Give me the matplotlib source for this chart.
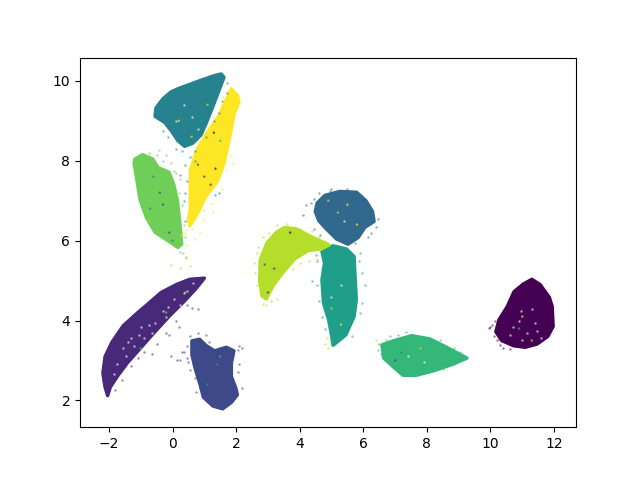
import matplotlib
matplotlib.use('Agg')
import matplotlib.pyplot as plt

# Cluster outlines, one (x, y) list per class. The dense
# blobs are too many points to read one by one, so each is drawn as its region.
class_0 = [(11.30, 5.03), (11.56, 4.90), (11.85, 4.58), (11.94, 4.35), (11.97, 3.85), (11.80, 3.60), (11.46, 3.41),
           (11.09, 3.33), (10.72, 3.37), (10.35, 3.50), (10.17, 3.72), (10.27, 4.02), (10.53, 4.35), (10.74, 4.72), (11.03, 4.91)]
class_1 = [(1.00, 5.06), (0.54, 5.03), (0.12, 4.90), (-0.36, 4.70), (-0.78, 4.41), (-1.09, 4.20), (-1.55, 3.87),
           (-1.91, 3.45), (-2.12, 3.10), (-2.19, 2.68), (-2.12, 2.33), (-2.04, 2.12), (-1.96, 2.33), (-1.72, 2.62),
           (-1.41, 2.95), (-1.04, 3.28), (-0.62, 3.66), (-0.09, 4.12), (0.38, 4.49), (0.75, 4.81)]
class_2 = [(0.61, 3.49), (0.85, 3.53), (1.06, 3.37), (1.32, 3.24), (1.69, 3.33), (1.93, 3.24), (1.85, 2.93), (1.85, 2.60),
           (1.99, 2.31), (2.04, 2.14), (1.85, 1.95), (1.58, 1.79), (1.27, 1.86), (0.97, 2.08), (0.87, 2.39), (0.71, 2.81), (0.61, 3.14)]
class_3 = [(4.55, 6.94), (4.79, 7.13), (5.26, 7.23), (5.79, 7.21), (6.08, 7.00), (6.29, 6.73), (6.34, 6.48), (6.05, 6.33),
           (5.84, 6.08), (5.52, 5.91), (5.16, 6.04), (4.84, 6.29), (4.60, 6.50), (4.49, 6.73)]
class_4 = [(1.53, 10.17), (1.62, 10.09), (1.53, 9.90), (1.43, 9.69), (1.27, 9.36), (1.06, 8.94), (0.90, 8.65), (0.64, 8.44),
           (0.38, 8.36), (0.17, 8.50), (-0.04, 8.75), (-0.25, 8.96), (-0.55, 9.11), (-0.52, 9.32), (-0.30, 9.55), (-0.05, 9.72),
           (0.17, 9.80), (0.85, 10.00), (1.32, 10.13)]
class_5 = [(4.70, 5.73), (5.05, 5.87), (5.47, 5.79), (5.71, 5.60), (5.74, 5.10), (5.78, 4.52), (5.71, 4.10), (5.45, 3.64),
           (5.05, 3.38), (5.00, 3.64), (4.91, 4.02), (4.75, 4.43), (4.70, 5.02), (4.78, 5.44)]
class_6 = [(6.59, 3.39), (6.94, 3.49), (7.52, 3.62), (8.09, 3.54), (8.62, 3.33), (9.26, 3.06), (8.83, 2.91), (8.20, 2.74),
           (7.67, 2.63), (7.25, 2.63), (6.96, 2.83), (6.64, 3.06)]
class_7 = [(-1.18, 8.04), (-0.94, 8.15), (-0.62, 8.04), (-0.46, 7.83), (-0.11, 7.71), (0.04, 7.40), (0.15, 7.02), (0.22, 6.52),
           (0.29, 5.91), (0.17, 5.83), (-0.15, 6.00), (-0.55, 6.21), (-0.81, 6.56), (-1.02, 7.02), (-1.12, 7.52), (-1.21, 7.94)]
class_8 = [(3.53, 6.33), (3.90, 6.29), (4.31, 6.12), (4.92, 5.89), (4.68, 5.79), (4.26, 5.75), (3.84, 5.54), (3.47, 5.20),
           (3.16, 4.87), (2.95, 4.54), (2.81, 4.62), (2.74, 5.02), (2.76, 5.52), (2.97, 5.94), (3.27, 6.21)]
class_9 = [(1.85, 9.80), (2.04, 9.63), (2.09, 9.48), (1.93, 9.15), (1.78, 8.52), (1.62, 7.94), (1.41, 7.48), (1.04, 7.10),
           (0.75, 6.62), (0.54, 6.37), (0.50, 6.52), (0.56, 6.77), (0.56, 7.19), (0.56, 7.77), (0.77, 8.27), (1.08, 8.69),
           (1.45, 9.11), (1.69, 9.52)]

outlines = [class_0, class_1, class_2, class_3, class_4, class_5, class_6, class_7, class_8, class_9]

# Loose points around the blobs, read by eye
stray_0 = [(10.0, 3.85), (9.95, 3.82), (10.05, 3.9), (10.1, 3.6), (10.2, 3.5), (10.3, 3.38), (10.15, 4.0), (10.4, 3.3), (10.6, 3.28)]
stray_1 = [(0.45, 4.4), (0.6, 4.32), (0.8, 4.3), (0.1, 3.98), (0.2, 3.85), (-0.2, 3.7), (-0.1, 3.65), (-0.5, 3.4), (-0.65, 3.15),
           (-0.9, 3.2), (-1.1, 3.05), (-1.3, 2.85), (-1.6, 2.5), (-1.8, 2.25), (-0.05, 3.1), (0.15, 3.0), (0.3, 3.2), (0.45, 3.05)]
stray_2 = [(0.55, 3.6), (0.8, 3.7), (1.05, 3.65), (0.35, 3.2), (0.25, 3.0), (0.5, 2.95), (0.55, 2.75), (0.7, 2.55), (0.45, 3.35),
           (2.05, 3.25), (2.1, 3.35), (2.2, 3.3), (2.1, 2.9), (2.05, 2.7), (2.2, 2.3), (0.6, 3.3), (0.75, 2.2), (1.15, 3.45)]
stray_3 = [(4.2, 6.9), (4.35, 6.95), (4.1, 6.65), (4.45, 7.05), (4.6, 7.2), (5.0, 7.3), (6.45, 6.55), (6.4, 6.35), (6.25, 6.2),
           (6.15, 6.1), (5.75, 5.95), (4.65, 6.15), (4.45, 6.3), (4.95, 7.25), (5.5, 7.3)]
stray_4 = [(1.7, 9.95), (1.72, 9.7), (1.55, 9.5), (1.45, 9.2), (1.3, 9.0), (1.05, 8.6), (0.7, 8.25), (0.55, 8.1), (0.7, 8.0),
           (0.4, 7.9), (0.25, 7.65), (0.45, 7.5), (0.4, 7.2), (1.45, 7.2), (1.35, 7.15), (-0.3, 8.75), (-0.15, 8.6), (0.1, 8.3),
           (0.3, 8.25), (0.35, 7.0), (0.4, 6.5)]
stray_5 = [(4.5, 5.65), (4.55, 5.5), (5.85, 5.5), (5.95, 5.2), (6.05, 4.9), (5.95, 4.45), (5.9, 4.2), (4.55, 4.9), (4.6, 4.5),
           (4.7, 4.1), (4.8, 3.8), (5.65, 3.6), (4.4, 5.0), (5.9, 5.7)]
stray_6 = [(6.45, 3.25), (6.5, 3.42), (6.7, 3.52), (6.85, 3.6), (7.1, 3.65), (7.35, 3.72), (8.4, 3.5), (8.85, 3.3), (9.05, 3.2),
           (9.0, 2.98), (8.5, 2.78), (6.55, 3.15)]
stray_7 = [(-0.41, 8.26), (-0.2, 8.15), (-0.75, 8.2), (-0.5, 8.15), (-0.04, 7.95), (0.12, 7.7), (0.32, 5.7), (0.42, 5.6), (0.05, 7.75),
           (0.2, 7.2), (0.3, 6.9), (0.35, 6.4), (0.38, 6.1), (-0.3, 7.98), (0.25, 7.55), (0.25, 5.72)]
stray_8 = [(-0.04, 5.39), (0.22, 5.31), (0.54, 5.37), (0.43, 5.57), (2.55, 5.45), (2.6, 5.2), (2.65, 5.7), (2.7, 5.85), (2.85, 6.1),
           (3.05, 6.2), (3.3, 6.4), (3.6, 6.42), (4.05, 6.3), (4.4, 6.25), (4.6, 6.1), (4.8, 6.0), (3.3, 4.55), (3.1, 4.5), (2.85, 4.42),
           (2.95, 4.4), (3.8, 5.3), (4.0, 5.45), (4.3, 5.5), (4.55, 5.55), (4.85, 3.55), (4.8, 3.4), (4.9, 3.3), (4.95, 3.48), (6.45, 3.42),
           (6.4, 3.5), (2.65, 4.9)]
stray_9 = [(1.85, 8.15), (1.69, 7.77), (1.27, 6.72), (1.0, 6.77), (0.95, 6.52), (0.43, 6.27), (0.27, 6.15), (0.4, 6.2), (0.62, 6.3),
           (1.53, 9.4), (1.58, 9.6), (1.27, 9.1), (1.16, 8.82), (1.9, 7.95), (1.55, 7.3), (1.2, 6.95), (0.45, 5.9), (0.85, 6.2), (0.7, 6.05)]

strays = [stray_0, stray_1, stray_2, stray_3, stray_4, stray_5, stray_6, stray_7, stray_8, stray_9]

# Pale flecks inside the blobs
flecks_x = [-1.55, -1.45, -1.3, -1.2, -1.05, -0.9, -0.75, -0.55, -0.3, -0.15, 0.05, 0.25, 0.45, 0.65, -1.75, -1.85, -1.4, -1.0, -0.65,
            -0.2, 0.1, 0.35, 10.9, 11.15, 11.4, 11.0, 10.7, 11.3, 11.6, 10.95, 11.45, 10.6, 0.35, 0.6, 0.8, 0.1, 5.3, 5.0, 5.4, 7.4, 7.9]
flecks_y = [3.3, 3.1, 3.55, 3.35, 3.65, 3.55, 3.9, 3.95, 4.25, 4.35, 4.55, 4.4, 4.75, 4.95, 2.9, 2.65, 3.45, 3.85, 3.7,
            4.1, 4.2, 4.7, 4.0, 3.7, 3.95, 3.5, 3.85, 4.3, 3.55, 4.25, 3.75, 3.65, 9.4, 9.1, 8.8, 9.0, 4.9, 4.6, 6.5, 3.1, 2.95]
# Odd-coloured points lying on top of other blobs: x, y, class
mixed_x = [-0.7, -0.4, 0.2, 0.6, 1.1, 0.9, 1.35, 1.2, 1.5, 0.8, -0.6, -0.3, -0.1, 0.0, -0.75, 5.2, 5.5, 4.9, 5.8, 5.0, 5.3, 3.2, 3.7, 2.9,
           3.0, 11.0, 11.3, 10.9, 7.2, 7.8, 7.0, -1.0, -0.2, 0.4, 1.4, 1.5, 1.1, 1.0, 1.3]
mixed_y = [6.8, 7.2, 9.0, 8.6, 9.4, 9.0, 7.8, 7.4, 8.5, 7.9, 7.6, 6.9, 6.2, 6.0, 6.5, 6.7, 6.9, 7.0, 6.4, 4.3, 3.9, 5.3, 6.2, 5.4,
           4.7, 4.1, 3.5, 3.8, 3.2, 3.3, 3.0, 3.3, 4.2, 4.7, 2.9, 3.1, 2.4, 7.6, 8.7]
mixed_c = [4, 2, 9, 8, 8, 5, 0, 1, 6, 2, 4, 2, 2, 4, 8, 8, 9, 8, 9, 8, 9, 1, 0, 2,
           1, 9, 8, 6, 4, 8, 2, 6, 7, 8, 5, 6, 5, 1, 0]

fig, ax = plt.subplots()
cmap = plt.cm.viridis

for label, outline in enumerate(outlines):
    xs = [p[0] for p in outline]
    ys = [p[1] for p in outline]
    ax.fill(xs, ys, color=cmap(label / 9), lw=2.5, joinstyle='round', zorder=2 + label * 0.01)

for label, pts in enumerate(strays):
    xs = [p[0] for p in pts]
    ys = [p[1] for p in pts]
    ax.scatter(xs, ys, s=3, color=cmap(label / 9), alpha=0.55, lw=0, zorder=3)

ax.scatter(flecks_x, flecks_y, s=3, color='white', alpha=0.6, lw=0, zorder=4)
ax.scatter(mixed_x, mixed_y, s=3, c=mixed_c, cmap='viridis', vmin=0, vmax=9, alpha=0.7, lw=0, zorder=4)

ax.set_xlim(-2.91, 12.69)
ax.set_ylim(1.33, 10.58)
ax.set_xticks([-2, 0, 2, 4, 6, 8, 10, 12])
ax.set_yticks([2, 4, 6, 8, 10])

fig.savefig('out.png', dpi=100)
